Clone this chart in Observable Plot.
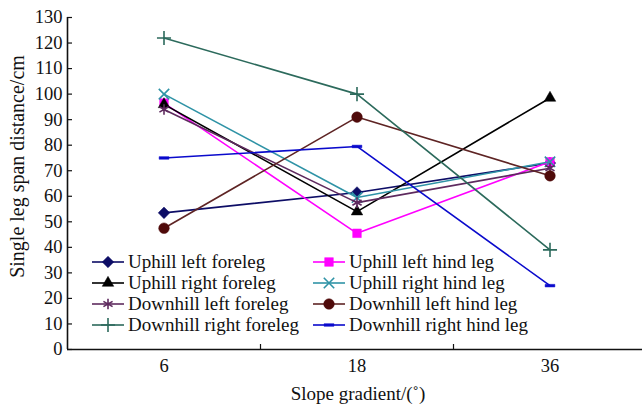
<!DOCTYPE html>
<html>
<head>
<meta charset="utf-8">
<script src="https://cdn.jsdelivr.net/npm/d3@7"></script>
<script src="https://cdn.jsdelivr.net/npm/@observablehq/plot@0.6"></script>
<style>
  html, body { margin: 0; padding: 0; background: #fff; }
  #wrap { position: relative; width: 642px; height: 405px; font-family: "Liberation Serif", "Times New Roman", serif; }
  #legend { position: absolute; left: 0; top: 0; width: 642px; height: 405px; pointer-events: none; }
  .item { position: absolute; display: flex; align-items: center; font-size: 19px; color: #111; white-space: nowrap; }
  .item svg { display: block; }
</style>
</head>
<body>
<div id="wrap"><div id="chart"></div><div id="legend"></div></div>
<script>
// ---- data ----
const slopes = ["6", "18", "36"];
const seriesNames = [
  "Uphill left foreleg", "Uphill left hind leg",
  "Uphill right foreleg", "Uphill right hind leg",
  "Downhill left foreleg", "Downhill left hind leg",
  "Downhill right foreleg", "Downhill right hind leg"
];
const uphillLeftForeleg    = [53.5, 61.5, 73];
const uphillLeftHindLeg    = [96.5, 45.5, 73.5];
const uphillRightForeleg   = [96, 54, 98.5];
const uphillRightHindLeg   = [100, 59.5, 73.5];
const downhillLeftForeleg  = [94, 57.5, 71];
const downhillLeftHindLeg  = [47.5, 91, 68];
const downhillRightForeleg = [122, 100, 39];
const downhillRightHindLeg = [75, 79.5, 25];
const yTicks = [0,10,20,30,40,50,60,70,80,90,100,110,120,130];

const seriesValues = [
  uphillLeftForeleg, uphillLeftHindLeg, uphillRightForeleg, uphillRightHindLeg,
  downhillLeftForeleg, downhillLeftHindLeg, downhillRightForeleg, downhillRightHindLeg
];

// ---- styles ----
const dash = { draw(ctx, size) { const w = Math.sqrt(size) * 0.55; ctx.moveTo(-w, -1.3); ctx.lineTo(w, -1.3); ctx.lineTo(w, 1.3); ctx.lineTo(-w, 1.3); ctx.closePath(); } };
const styles = [
  { color: "#0d0d66", symbol: "diamond2", r: 5.2, fill: true },
  { color: "#ff00ff", symbol: "square2", r: 5.5, fill: true },
  { color: "#000000", symbol: "triangle2", r: 5.5, fill: true },
  { color: "#2f93a6", symbol: "times", r: 4.8, fill: false },
  { color: "#5e2a5e", symbol: "asterisk", r: 5, fill: false },
  { color: "#4f0a0a", symbol: "circle", r: 5.3, fill: true, line: "#5e2424" },
  { color: "#2c6a5c", symbol: "plus", r: 4.6, fill: false },
  { color: "#0a0acc", symbol: dash, r: 5, fill: true }
];

const rows = [];
seriesNames.forEach((name, s) => seriesValues[s].forEach((v, i) => rows.push({ name, s, i, slope: slopes[i], value: v })));

const marks = [];
seriesNames.forEach((name, s) => {
  const st = styles[s];
  const d = rows.filter(r => r.s === s);
  marks.push(Plot.line(d, { x: "i", y: "value", stroke: st.line || st.color, strokeWidth: 1.6 }));
  marks.push(Plot.dot(d, {
    x: "i", y: "value", symbol: () => st.symbol, r: st.r,
    fill: st.fill ? st.color : "none", stroke: st.color, strokeWidth: st.fill ? 0.5 : 1.6
  }));
});

const chart = Plot.plot({
  width: 642,
  height: 405,
  marginTop: 17,
  marginBottom: 56,
  marginLeft: 67,
  marginRight: 0,
  style: { fontFamily: "Liberation Serif, Times New Roman, serif", fontSize: "18.5px", color: "#111", background: "#fff" },
  x: { domain: [-0.5, 2.5], range: [67, 646] },
  y: { domain: [0, 130] },
  marks: [
    Plot.axisY(yTicks, { tickSize: 0, tickPadding: 5, label: null, fontSize: 18.5 }),
    Plot.axisY(yTicks, { tickSize: -5, tickFormat: () => "", label: null, strokeWidth: 1.2 }),
    Plot.axisX([0, 1, 2], { tickSize: 0, tickPadding: 9, tickFormat: i => slopes[i], label: null, fontSize: 18.5 }),
    Plot.axisX([0.5, 1.5], { tickSize: -5, tickFormat: () => "", label: null, strokeWidth: 1.2 }),
    Plot.ruleY([0], { stroke: "#111", strokeWidth: 1.6 }),
    Plot.ruleX([-0.5], { stroke: "#111", strokeWidth: 1.6 }),
    ...marks,
    Plot.text(["Single leg span distance/cm"], { frameAnchor: "left", textAnchor: "middle", lineAnchor: "middle", rotate: -90, dx: -50, dy: -17, fontSize: 20, fill: "#111" }),
    Plot.text(["Slope gradient/(\u02da)"], { frameAnchor: "bottom", textAnchor: "middle", lineAnchor: "middle", dx: 3, dy: 44, fontSize: 19, fill: "#111" })
  ]
});
document.getElementById("chart").appendChild(chart);

// ---- legend (HTML overlay, two columns) ----
const legend = d3.select("#legend");
const colX = [92, 313];
const rowY = [262, 283, 304, 325];
const symMap = { diamond2: d3.symbolDiamond2, square2: d3.symbolSquare2, triangle2: d3.symbolTriangle2, times: d3.symbolTimes, asterisk: d3.symbolAsterisk, circle: d3.symbolCircle, plus: d3.symbolPlus };
seriesNames.forEach((name, s) => {
  const st = styles[s];
  const col = s % 2, row = Math.floor(s / 2);
  const item = legend.append("div").attr("class", "item")
    .style("left", colX[col] + "px").style("top", (rowY[row] - 12) + "px").style("height", "24px");
  const svg = item.append("svg").attr("width", 36).attr("height", 24);
  svg.append("line").attr("x1", 0).attr("x2", 32).attr("y1", 12).attr("y2", 12)
    .attr("stroke", st.line || st.color).attr("stroke-width", 1.6);
  const type = typeof st.symbol === "string" ? symMap[st.symbol] : st.symbol;
  svg.append("path").attr("transform", "translate(16,12)")
    .attr("d", d3.symbol(type, Math.PI * st.r * st.r)())
    .attr("fill", st.fill ? st.color : "none").attr("stroke", st.color).attr("stroke-width", st.fill ? 0.5 : 1.6);
  item.append("span").text(name);
});
</script>
</body>
</html>
